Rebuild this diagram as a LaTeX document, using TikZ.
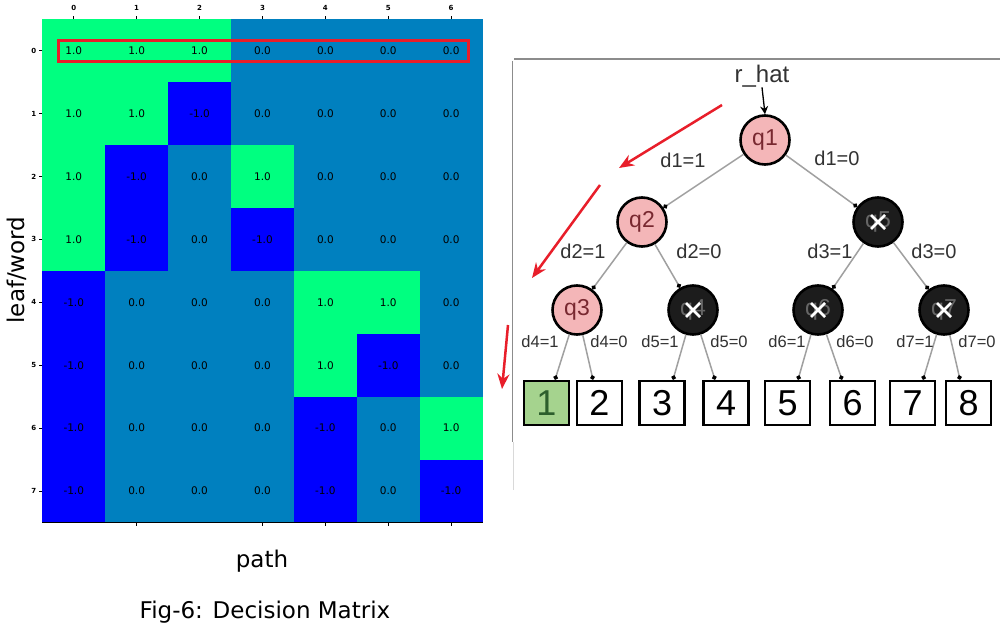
\documentclass[tikz,border=0pt]{standalone}
\usepackage{fontspec}
\setmainfont{DejaVu Sans}
\newfontfamily\arialf{Liberation Sans}
\usetikzlibrary{arrows.meta,calc}
\definecolor{wgreen}{RGB}{0,255,128}
\definecolor{wmid}{RGB}{0,128,191}
\definecolor{wblue}{RGB}{0,0,255}
\definecolor{redmark}{RGB}{232,30,42}
\definecolor{qpinkc}{RGB}{244,182,184}
\definecolor{qtext}{RGB}{120,40,48}
\definecolor{edgegray}{RGB}{160,160,160}
\definecolor{labgray}{RGB}{50,50,50}
\definecolor{leafgreen}{RGB}{165,211,142}
\definecolor{nodeblack}{RGB}{28,28,28}
\definecolor{framegray}{RGB}{140,140,140}
\tikzset{
  celltext/.style={font=\fontsize{10.5}{10.5}\selectfont, text=black, inner sep=0pt},
  ticklab/.style={font=\bfseries\fontsize{7}{7}\selectfont, inner sep=0pt},
  bigtext/.style={font=\fontsize{23}{23}\selectfont, inner sep=0pt},
  redarrow/.style={draw=redmark, line width=2.5pt, -{Stealth[length=15pt,width=12pt]}},
  qpink/.style={circle, draw=black, line width=2.6pt, fill=qpinkc, minimum size=49pt, inner sep=0pt,
    font=\arialf\fontsize{23}{23}\selectfont, text=qtext},
  qblack/.style={circle, draw=black, line width=2.6pt, fill=nodeblack, minimum size=49pt, inner sep=0pt,
    font=\arialf\fontsize{23}{23}\selectfont, text=black!60},
  leafbox/.style={rectangle, draw=black, line width=2.6pt, fill=white, minimum width=45pt, minimum height=44pt,
    inner sep=0pt, font=\arialf\fontsize{36}{36}\selectfont},
  edge/.style={draw=edgegray, line width=1.5pt, -{Circle[length=4.5pt,color=black]}},
  dlab/.style={font=\arialf\fontsize{20}{20}\selectfont, text=labgray, inner sep=0pt},
  dlabs/.style={font=\arialf\fontsize{16.5}{16.5}\selectfont, text=labgray, inner sep=0pt},
  xmark/.style={draw=white, line width=2.8pt},
}
\begin{document}
\begin{tikzpicture}[x=1pt,y=-1pt]
\useasboundingbox (0,0) rectangle (1000,631);
\fill[white] (0,0) rectangle (1000,631);

% ---------------- decision matrix ----------------
\foreach \row [count=\i from 0] in {{1,1,1,0,0,0,0},{1,1,-1,0,0,0,0},{1,-1,0,1,0,0,0},{1,-1,0,-1,0,0,0},{-1,0,0,0,1,1,0},{-1,0,0,0,1,-1,0},{-1,0,0,0,-1,0,1},{-1,0,0,0,-1,0,-1}}{
  \foreach \v [count=\j from 0] in \row {
    \ifnum\v>0 \def\cc{wgreen}\else\ifnum\v<0 \def\cc{wblue}\else\def\cc{wmid}\fi\fi
    \fill[fill=\cc] ({42.3+62.9*\j},{19.3+62.9*\i}) rectangle ({42.3+62.9*(\j+1)+0.3},{19.3+62.9*(\i+1)+0.3});
  }
}
\foreach \row [count=\i from 0] in {{1,1,1,0,0,0,0},{1,1,-1,0,0,0,0},{1,-1,0,1,0,0,0},{1,-1,0,-1,0,0,0},{-1,0,0,0,1,1,0},{-1,0,0,0,1,-1,0},{-1,0,0,0,-1,0,1},{-1,0,0,0,-1,0,-1}}{
  \foreach \v [count=\j from 0] in \row {
    \node[celltext] (c\i\j) at ({42.3+62.9*(\j+0.5)},{19.3+62.9*(\i+0.5)}) {\v.0};
  }
}
% axis ticks and labels
\foreach \j in {0,...,6}{
  \draw[line width=0.8pt] ({42.3+62.9*(\j+0.5)},19.3) -- ({42.3+62.9*(\j+0.5)},16);
  \node[ticklab] (tx\j) at ({42.3+62.9*(\j+0.5)},8) {\j};
}
\foreach \i in {0,...,7}{
  \draw[line width=0.8pt] (42.3,{19.3+62.9*(\i+0.5)}) -- (39,{19.3+62.9*(\i+0.5)});
  \node[ticklab, anchor=east] (ty\i) at (36.5,{19.3+62.9*(\i+0.5)}) {\i};
}
\foreach \j in {1,3,4,5,6}{
  \draw[line width=0.8pt] ({42.3+62.9*(\j+0.5)},522.5) -- ({42.3+62.9*(\j+0.5)},526);
}
\draw[line width=0.8pt] (42.3,522.5) -- (482.6,522.5);
% red highlight
\draw[redmark, line width=3pt] (58.5,40.5) rectangle (468.5,61.5);
% axis labels
\node[bigtext, rotate=90] (ylab) at (17,270) {leaf/word};
\node[bigtext] (xlab) at (262,561) {path};
\node[bigtext] (cap) at (265,612) {Fig-6: Decision Matrix};

% ---------------- tree ----------------
\draw[framegray, line width=1.2pt] (514,59) -- (1000,59);
\draw[framegray, line width=1.2pt] (512.5,61) -- (512.5,442);
\draw[black!15, line width=1pt] (513,442) -- (513,490);

\node[font=\arialf\fontsize{24}{24}\selectfont, text=labgray, inner sep=0pt] (rhat) at (762,76) {r\_hat};
\node[qpink] (q1) at (765,140) {q1};
\node[qpink] (q2) at (642,222) {q2};
\node[qblack] (q5) at (878,222) {q5};
\node[qpink] (q3) at (577,310) {q3};
\node[qblack] (q4) at (693,310) {q4};
\node[qblack] (q6) at (818,310) {q6};
\node[qblack] (q7) at (944,310) {q7};

\foreach \n in {q4,q5,q6,q7}{
  \draw[xmark] ($(\n)+(-7,-7)$) -- ($(\n)+(7,7)$);
  \draw[xmark] ($(\n)+(-7,7)$) -- ($(\n)+(7,-7)$);
}

\draw[black, line width=1.3pt, -{Stealth[length=8pt,width=8pt]}] (rhat.south) -- (q1.north);

\node[leafbox, fill=leafgreen, text={rgb,255:red,45;green,95;blue,45}] (l1) at (546.5,403) {1};
\node[leafbox] (l2) at (599.5,403) {2};
\node[leafbox] (l3) at (662,403) {3};
\node[leafbox] (l4) at (726,403) {4};
\node[leafbox] (l5) at (787.5,403) {5};
\node[leafbox] (l6) at (852.5,403) {6};
\node[leafbox] (l7) at (912.5,403) {7};
\node[leafbox] (l8) at (968.5,403) {8};

\draw[edge] (q1) -- (q2);
\draw[edge] (q1) -- (q5);
\draw[edge] (q2) -- (q3);
\draw[edge] (q2) -- (q4);
\draw[edge] (q5) -- (q6);
\draw[edge] (q5) -- (q7);
\draw[edge] (q3) -- ($(l1.north)+(8.5,0)$);
\draw[edge] (q3) -- ($(l2.north)+(-6.5,0)$);
\draw[edge] (q4) -- ($(l3.north)+(11,0)$);
\draw[edge] (q4) -- ($(l4.north)+(-11,0)$);
\draw[edge] (q6) -- ($(l5.north)+(10.5,0)$);
\draw[edge] (q6) -- ($(l6.north)+(-10.5,0)$);
\draw[edge] (q7) -- ($(l7.north)+(10.5,0)$);
\draw[edge] (q7) -- ($(l8.north)+(-8.5,0)$);

\node[dlab] (e11) at (683,160) {d1=1};
\node[dlab] (e10) at (837,158) {d1=0};
\node[dlab] (e21) at (583,251) {d2=1};
\node[dlab] (e20) at (699,251) {d2=0};
\node[dlab] (e31) at (830,251) {d3=1};
\node[dlab] (e30) at (934,251) {d3=0};
\node[dlabs] (e41) at (540,342) {d4=1};
\node[dlabs] (e40) at (609,342) {d4=0};
\node[dlabs] (e51) at (660,342) {d5=1};
\node[dlabs] (e50) at (729,342) {d5=0};
\node[dlabs] (e61) at (787,342) {d6=1};
\node[dlabs] (e60) at (855,342) {d6=0};
\node[dlabs] (e71) at (915,342) {d7=1};
\node[dlabs] (e70) at (977,342) {d7=0};

% red guide arrows
\coordinate (ra1s) at (722,105); \coordinate (ra1e) at (619,168);
\coordinate (ra2s) at (600,185); \coordinate (ra2e) at (532,278);
\coordinate (ra3s) at (508,325); \coordinate (ra3e) at (502,389);
\draw[redarrow] (ra1s) -- (ra1e);
\draw[redarrow] (ra2s) -- (ra2e);
\draw[redarrow] (ra3s) -- (ra3e);
\end{tikzpicture}
\end{document}
